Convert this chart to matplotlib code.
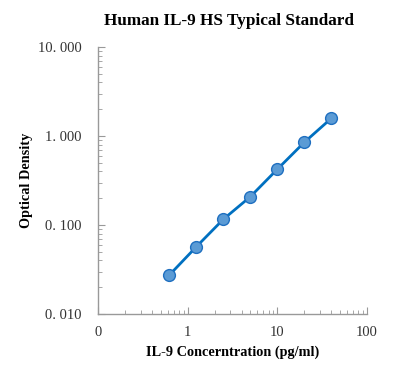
import matplotlib
matplotlib.use("Agg")
import matplotlib.pyplot as plt
from matplotlib.ticker import FixedLocator, LogLocator, NullFormatter

conc = [0.625, 1.25, 2.5, 5, 10, 20, 40]
od = [0.0274, 0.057, 0.116, 0.208, 0.423, 0.85, 1.58]
xticks = [0.1, 1, 10, 100]
xlabels = ["0", "1", "10", "100"]
yticks = [0.01, 0.1, 1, 10]
ylabels = ["0. 010", "0. 100", "1. 000", "10. 000"]

plt.rcParams['font.family'] = ['Liberation Serif', 'DejaVu Serif']

fig = plt.figure(figsize=(3.97, 3.74), dpi=100)
ax = fig.add_axes([98/397, 60/374, 269/397, 267/374])
ax.plot(conc, od, color='#0070C0', lw=2, marker='o', ms=8.5,
        mfc='#5B9BD5', mec='#1F6FC0', mew=1, zorder=3)
ax.set_xscale('log')
ax.set_yscale('log')
ax.set_xlim(0.1, 100)
ax.set_ylim(0.01, 10)
ax.xaxis.set_major_locator(FixedLocator(xticks))
ax.set_xticklabels(xlabels)
ax.yaxis.set_major_locator(FixedLocator(yticks))
ax.set_yticklabels(ylabels)
ax.xaxis.set_minor_locator(LogLocator(base=10, subs=range(2, 10)))
ax.yaxis.set_minor_locator(LogLocator(base=10, subs=range(2, 10)))
ax.xaxis.set_minor_formatter(NullFormatter())
ax.yaxis.set_minor_formatter(NullFormatter())
for s in ['top', 'right']:
    ax.spines[s].set_visible(False)
for s in ['left', 'bottom']:
    ax.spines[s].set_color('#999999')
    ax.spines[s].set_linewidth(1)
ax.tick_params(which='both', direction='in', color='#999999', labelsize=10.5, labelcolor='#333333')
ax.tick_params(which='major', length=5)
ax.tick_params(which='minor', length=3)
ax.tick_params(axis='x', pad=9)
ax.tick_params(axis='y', pad=12)
ax.set_xlabel('IL-9 Concerntration (pg/ml)', fontsize=10.3, fontweight='bold', labelpad=4)
ax.set_ylabel('Optical Density', fontsize=10.3, fontweight='bold')
ax.yaxis.set_label_coords(-0.242, 0.5)
fig.text(0.576, 0.945, 'Human IL-9 HS Typical Standard', ha='center', va='center',
         fontsize=12.3, fontweight='bold')
fig.savefig('out.png', dpi=100)
